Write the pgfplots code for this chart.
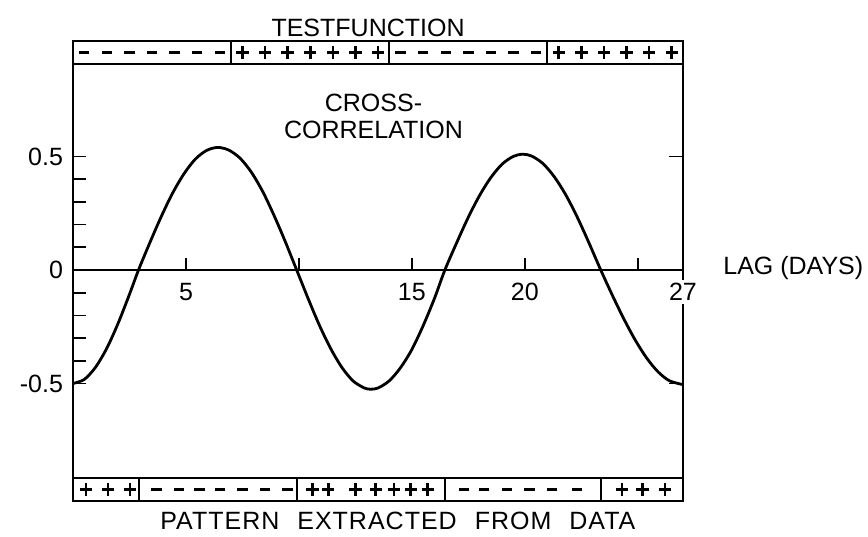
\documentclass[border=0pt]{standalone}
\usepackage{pgfplots}
\pgfplotsset{compat=1.18}
\usepackage{fontspec}
\setmainfont{Liberation Sans}
\pgfplotstableread{
x y
0 -0.500
0.5 -0.482
1.0 -0.428
1.5 -0.344
2.0 -0.234
2.5 -0.107
2.9 0.0
3.4 0.120
3.9 0.234
4.4 0.337
4.9 0.422
5.4 0.487
5.9 0.526
6.4 0.540
6.9 0.528
7.4 0.492
7.9 0.430
8.4 0.345
8.9 0.240
9.4 0.124
9.9 0.0
10.4 -0.124
10.9 -0.242
11.4 -0.345
11.9 -0.429
12.4 -0.489
12.9 -0.520
13.18 -0.525
13.5 -0.520
14.0 -0.488
14.5 -0.430
15.0 -0.350
15.5 -0.245
16.0 -0.125
16.46 0.0
17.0 0.124
17.5 0.233
18.0 0.329
18.5 0.408
19.0 0.467
19.5 0.501
19.91 0.510
20.3 0.502
20.8 0.469
21.3 0.411
21.8 0.333
22.3 0.237
22.8 0.128
23.36 0.0
23.9 -0.117
24.4 -0.219
24.9 -0.311
25.4 -0.389
25.9 -0.449
26.4 -0.488
27 -0.505
}\corr
\pgfplotstableread{
x y
0.5 0.958
1.5 0.958
2.5 0.958
3.5 0.958
4.5 0.958
5.5 0.958
6.5 0.958
14.5 0.958
15.5 0.958
16.5 0.958
17.5 0.958
18.5 0.958
19.5 0.958
20.5 0.958
3.7 -0.967
4.7 -0.967
5.6 -0.967
6.5 -0.967
7.5 -0.967
8.5 -0.967
9.5 -0.967
17.3 -0.967
18.2 -0.967
19.2 -0.967
20.2 -0.967
21.2 -0.967
22.3 -0.967
}\minus
\pgfplotstableread{
x y
7.5 0.958
8.5 0.958
9.5 0.958
10.5 0.958
11.5 0.958
12.5 0.958
13.5 0.958
21.5 0.958
22.5 0.958
23.5 0.958
24.5 0.958
25.5 0.958
26.5 0.958
0.58 -0.967
1.55 -0.967
2.52 -0.967
10.6 -0.967
11.3 -0.967
12.5 -0.967
13.4 -0.967
14.2 -0.967
14.95 -0.967
15.7 -0.967
24.3 -0.967
25.2 -0.967
26.2 -0.967
}\plus
\begin{document}
\begin{tikzpicture}[font=\fontsize{12.5}{13.5}\selectfont]
\useasboundingbox (0,0) rectangle (434pt,268pt);
\pgfplotsset{myax/.style={at={(36.5pt,17.5pt)}, anchor=south west,
  width=305pt, height=230pt, scale only axis,
  xmin=0, xmax=27, ymin=-1.0176, ymax=1.0088, clip=false}}
\begin{axis}[myax,
  axis line style={line width=1pt},
  xtick=\empty,
  ytick={-0.5,-0.4,-0.3,-0.2,-0.1,0,0.1,0.2,0.3,0.4,0.5},
  yticklabels={-0.5,,,,,0,,,,,0.5},
  ytick pos=left, tick align=inside, major tick length=6.5pt,
  tick style={line width=0.9pt, black},
  yticklabel style={font=\fontsize{12.5}{13.5}\selectfont, xshift=-1.5pt}]
\addplot[black, line width=1.4pt, smooth] table {\corr};
% strip borders
\addplot[black, line width=1pt] coordinates {(0,0.907) (27,0.907)};
\addplot[black, line width=1pt] coordinates {(0,-0.916) (27,-0.916)};
\addplot[black, line width=1pt] coordinates {(7,0.907) (7,1.0088)};
\addplot[black, line width=1pt] coordinates {(14,0.907) (14,1.0088)};
\addplot[black, line width=1pt] coordinates {(21,0.907) (21,1.0088)};
\addplot[black, line width=1pt] coordinates {(2.9,-0.916) (2.9,-1.0176)};
\addplot[black, line width=1pt] coordinates {(9.9,-0.916) (9.9,-1.0176)};
\addplot[black, line width=1pt] coordinates {(16.46,-0.916) (16.46,-1.0176)};
\addplot[black, line width=1pt] coordinates {(23.36,-0.916) (23.36,-1.0176)};
% right ticks
\addplot[black, line width=0.9pt] coordinates {(27,0.5) (26.4,0.5)};
\addplot[black, line width=0.9pt] coordinates {(27,-0.5) (26.4,-0.5)};
% signs
\addplot[only marks, mark=-, mark size=2.6pt, mark options={line width=1.3pt, black}] table {\minus};
\addplot[only marks, mark=+, mark size=3.1pt, mark options={line width=1.3pt, black}] table {\plus};
\node at (axis cs:13.06,1.068) {TESTFUNCTION};
\node[align=center] at (axis cs:13.3,0.676) {CROSS-\\CORRELATION};
\node at (axis cs:14.38,-1.106) {\addfontfeature{LetterSpace=4}PATTERN\hspace{9pt}EXTRACTED\hspace{9pt}FROM\hspace{9pt}DATA};
\node[anchor=west, inner sep=0pt] at (axis cs:28.77,0.01) {LAG (DAYS)};
\end{axis}
\begin{axis}[myax,
  axis x line=middle, axis y line=none,
  axis line style={-, line width=1pt},
  xtick={5,10,15,20,25}, xticklabels={5,,15,20,},
  extra x ticks={27}, extra x tick labels={27},
  extra x tick style={xticklabel style={fill=white, inner sep=1.5pt, yshift=-2pt}},
  tick align=inside, major tick length=6pt,
  tick style={line width=0.9pt, black},
  xticklabel style={yshift=-3pt, font=\fontsize{12.5}{13.5}\selectfont}]
\addplot[draw=none] coordinates {(0,0)};
\end{axis}
\end{tikzpicture}
\end{document}
